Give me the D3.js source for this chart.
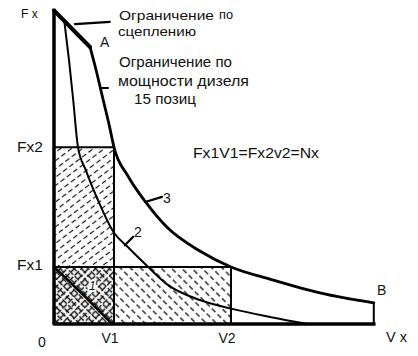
<!DOCTYPE html>
<html><head><meta charset="utf-8">
<script src="https://cdn.jsdelivr.net/npm/d3@7"></script>
<style>
html,body{margin:0;padding:0;background:#fff;}
svg text{font-family:"Liberation Sans",Arial,sans-serif;fill:#111;}
</style></head>
<body><svg id="c" width="418" height="356"></svg>
<script>
// ---- data (abstract units: V in units of V1, F in units of Fx1) ----
const V1 = 1.0, V2 = 2.95, Fx1 = 1.0, Fx2 = 3.1, Vmax = 5.33, Fmax = 5.5;
const tractionLimit = [[0.0, 5.5], [0.6, 4.86]];
const curve3 = [[0.6,4.86],[0.70,4.46],[0.82,3.93],[0.92,3.49],[1.0,3.1],[1.23,2.6],[1.52,2.15],[1.88,1.70],[2.43,1.28],[2.95,1.0],[3.62,0.78],[4.45,0.54],[5.33,0.37]];
const curve2 = [[0.17,5.33],[0.25,4.63],[0.32,3.93],[0.40,3.1],[0.53,2.70],[0.73,2.18],[1.0,1.60],[1.23,1.35],[1.57,1.0],[1.88,0.70],[2.43,0.42],[2.95,0.27],[3.62,0.12],[4.23,0]];
const curve1 = [[0,1.0],[0.5,0.5],[0.97,0]];
const xTickLabels = [{v:0,t:"0"},{v:V1,t:"V1"},{v:V2,t:"V2"}];
const yTickLabels = [{f:Fx2,t:"Fx2"},{f:Fx1,t:"Fx1"}];
const leaders = [ // [V0,F0,V1,F1]
  [0.35,5.26,0.93,5.30],
  [0.77,4.14,0.90,4.14],
  [1.52,2.14,1.80,2.23],
  [1.18,1.38,1.32,1.53]
];

const svg = d3.select("#c");
const x = d3.scaleLinear().domain([0,6]).range([54,414]);
const y = d3.scaleLinear().domain([0,Fmax]).range([324,10.5]);

const defs = svg.append("defs");
function hatch(id, angle, size, sw, dash){
  const p = defs.append("pattern").attr("id",id).attr("patternUnits","userSpaceOnUse")
    .attr("width",size).attr("height",8).attr("patternTransform",`rotate(${angle})`);
  p.append("line").attr("x1",size/2).attr("y1",0).attr("x2",size/2).attr("y2",8)
    .attr("stroke","#111").attr("stroke-width",sw).attr("stroke-dasharray",dash);
}
hatch("fwd", 53, 6.6, 1.2, "5 3");
hatch("bwd", -45, 7.2, 1.3, "5 3");
hatch("xa", 45, 5, 1.5, "6 2");
hatch("xb", -45, 5, 1.5, "6 2");

// hatched areas
svg.append("rect").attr("x",x(0)).attr("y",y(Fx2)).attr("width",x(V1)-x(0)).attr("height",y(Fx1)-y(Fx2)).attr("fill","url(#fwd)");
svg.append("rect").attr("x",x(V1)).attr("y",y(Fx1)).attr("width",x(V2)-x(V1)).attr("height",y(0)-y(Fx1)).attr("fill","url(#bwd)");
svg.append("rect").attr("x",x(0)).attr("y",y(Fx1)).attr("width",x(V1)-x(0)).attr("height",y(0)-y(Fx1)).attr("fill","url(#xa)");
svg.append("rect").attr("x",x(0)).attr("y",y(Fx1)).attr("width",x(V1)-x(0)).attr("height",y(0)-y(Fx1)).attr("fill","url(#xb)");

const line = d3.line().x(d=>x(d[0])).y(d=>y(d[1]));
const cline = d3.line().x(d=>x(d[0])).y(d=>y(d[1])).curve(d3.curveMonotoneX);
const stroke = (sel,w)=>sel.attr("fill","none").attr("stroke","#000").attr("stroke-width",w).attr("stroke-linejoin","round").attr("stroke-linecap","round");

// rectangle borders
stroke(svg.append("path").attr("d",line([[0,Fx2],[V1,Fx2],[V1,0]])),2);
stroke(svg.append("path").attr("d",line([[0,Fx1],[V2,Fx1],[V2,0]])),2);
stroke(svg.append("path").attr("d",line([[Vmax,0.37],[Vmax,0]])),2);

// curves
stroke(svg.append("path").attr("d",line(curve1)),2.6);
stroke(svg.append("path").attr("d",cline(curve2)),2);
stroke(svg.append("path").attr("d",cline(curve3)),2.8);
stroke(svg.append("path").attr("d",line(tractionLimit)),4);

// axes
stroke(svg.append("path").attr("d",line([[0,Fmax],[0,0],[Vmax,0]])),3.5).attr("stroke-linecap","square");

// leader lines
leaders.forEach(l=>stroke(svg.append("path").attr("d",line([[l[0],l[1]],[l[2],l[3]]])),2.2));

// text
function txt(t,px,py,size,len,extra){
  const e = svg.append("text").attr("x",px).attr("y",py).attr("font-size",size).text(t);
  if(len) e.attr("textLength",len).attr("lengthAdjust","spacingAndGlyphs");
  if(extra) extra(e);
  return e;
}
txt("F x",21,18,12);
txt("Ограничение",119,20,13.5,95);
txt("по",219,19,13,14);
txt("сцеплению",118,36,13.5,78);
txt("A",100,47,14);
txt("Ограничение по",119,67,14,113);
txt("мощности дизеля",118,86,14,131);
txt("15 позиц",134,104,14,62);
txt("Fx1V1=Fx2v2=Nx",193,158,14,126);
txt("3",163,203,14);
txt("2",134,237,14);
txt("1",89,290,12,null,e=>e.attr("font-style","italic").attr("stroke","#fff").attr("stroke-width",4).attr("paint-order","stroke").attr("stroke-linejoin","round"));
txt("B",377,295,14);
txt("V x",386,342,14,21);
yTickLabels.forEach(d=>txt(d.t,x(0)-37,y(d.f)+ (d.t==="Fx2"?5:3),14,26));
xTickLabels.forEach(d=>{
  txt(d.t, d.v===0 ? x(0)-16 : x(d.v)-4, d.v===0?347:343, 14, null, e=>e.attr("text-anchor", d.v===0?"start":"middle"));
});
</script></body></html>
